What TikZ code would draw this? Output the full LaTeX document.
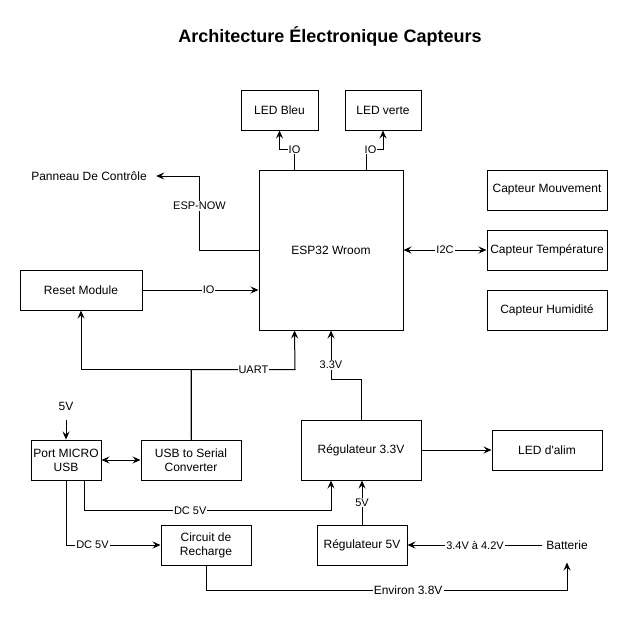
\documentclass[tikz,border=0pt]{standalone}
\usepackage{fontspec}
\setmainfont{Liberation Sans}
\usetikzlibrary{arrows.meta,calc}
\begin{document}
\begin{tikzpicture}[x=1pt,y=-1pt,line width=1pt,
  box/.style={draw,line width=1pt,align=center,inner sep=2pt,font=\fontsize{12}{14}\selectfont},
  txt/.style={align=center,font=\fontsize{12}{14}\selectfont},
  lbl/.style={fill=white,inner sep=1pt,font=\fontsize{11}{13}\selectfont},
  arr/.style={-{Stealth[length=8pt,width=7pt,inset=3pt]}},
  arrb/.style={{Stealth[length=8pt,width=7pt,inset=3pt]}-{Stealth[length=8pt,width=7pt,inset=3pt]}}]
\useasboundingbox (0,0) rectangle (628,619);
\node[font=\bfseries\fontsize{18}{22}\selectfont] (title) at (330,36) {Architecture Électronique Capteurs};
% boxes
\node[box,minimum width=77pt,minimum height=40pt] (ledb) at (279.5,110) {LED Bleu};
\node[box,minimum width=76pt,minimum height=40pt] (ledv) at (383,110) {LED verte};
\node[box,minimum width=144pt,minimum height=160pt] (esp) at (331,250) {ESP32 Wroom};
\node[box,minimum width=120pt,minimum height=40pt] (cm) at (547,190) {Capteur Mouvement};
\node[box,minimum width=120pt,minimum height=40pt] (ct) at (547,250) {Capteur Température};
\node[box,minimum width=120pt,minimum height=40pt] (ch) at (547,310) {Capteur Humidité};
\node[txt,inner sep=0pt] (pan) at (89,176) {Panneau De Contrôle};
\node[box,minimum width=122pt,minimum height=40pt] (reset) at (81,290) {Reset Module};
\node[box,minimum width=70pt,minimum height=40pt] (port) at (66,460) {Port MICRO\\USB};
\node[box,minimum width=100pt,minimum height=40pt] (usb) at (191,460) {USB to Serial\\Converter};
\node[box,minimum width=90pt,minimum height=40pt] (rech) at (206,545) {Circuit de\\Recharge};
\node[box,minimum width=120pt,minimum height=60pt] (reg33) at (361,450) {Régulateur 3.3V};
\node[box,minimum width=110pt,minimum height=40pt] (alim) at (547,450) {LED d\textquotesingle alim};
\node[box,minimum width=90pt,minimum height=40pt] (reg5) at (362,545) {Régulateur 5V};
\node[txt,minimum height=34pt] (bat) at (567,545) {Batterie};
\node[txt] (v5) at (66,406) {5V};
% connectors
\draw[arr] ($(esp.north west)+(36,0)$) -- ++(0,-20) node[lbl]{IO} -| (ledb.south);
\draw[arr] ($(esp.north west)+(108,0)$) -- ++(0,-20) node[lbl,xshift=4pt]{IO} -| (ledv.south);
\draw[arr] (esp.west) -- ++(-59,0) -- node[lbl,pos=0.6]{ESP-NOW} ++(0,-74) -- ($(pan.east)+(9,0)$);
\draw[arr] (reset.east) -- node[lbl,pos=0.57]{IO} (esp.west |- reset.east);
\draw[arr] (usb.north) -- ++(0,-70) -| (reset.south);
\draw[arr] (usb.north) -- ++(0,-70) -- node[lbl,pos=0.6]{UART} ++(104,0) -- ($(esp.south west)+(36,0)$);
\draw[arr] (reg33.north) -- ++(0,-40) -- ++(-30,0) -- node[lbl,pos=0.3]{3.3V} (esp.south);
\draw[arrb] (esp.east) -- node[lbl]{I2C} (ct.west);
\draw[arrb] (port.east) -- (usb.west);
\draw[arr] ($(v5)+(0,14)$) -- (port.north);
\draw[arr] ($(port.south)+(18,0)$) -- ++(0,30) -- node[lbl,pos=0.43]{DC 5V} ++(247,0) -- ($(reg33.south)+(-30,0)$);
\draw[arr] (port.south) |- node[lbl,pos=0.64]{DC 5V} (rech.west);
\draw[arr] (reg5.north) -- node[lbl]{5V} (reg5.north |- reg33.south);
\draw[arr] (reg33.east) -- (alim.west);
\draw[arr] (bat.west) -- node[lbl]{3.4V à 4.2V} (reg5.east);
\draw[arr] (rech.south) -- ++(0,25) -| node[lbl,pos=0.28,font=\fontsize{12}{14}\selectfont]{Environ 3.8V} (bat.south);
\end{tikzpicture}
\end{document}
